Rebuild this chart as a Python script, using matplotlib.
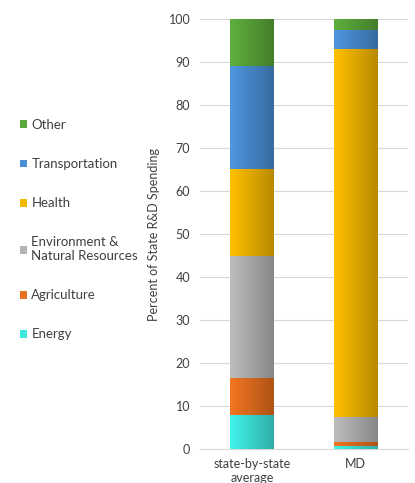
import matplotlib
matplotlib.use("Agg")
from matplotlib import pyplot as plt
from matplotlib.patches import Patch
from matplotlib.colors import to_rgb
import numpy as np

plt.rcParams['font.family'] = ['Lato', 'DejaVu Sans']

groups = ["state-by-state\naverage", "MD"]
categories = ["Energy", "Agriculture", "Environment &\nNatural Resources",
              "Health", "Transportation", "Other"]
energy = [8.0, 0.7]
agriculture = [8.5, 1.0]
environment = [28.5, 5.8]
health = [20.0, 85.5]
transportation = [24.0, 4.5]
other = [11.0, 2.5]
colors = ["#3ee8df", "#e8701f", "#b4b4b4", "#f5b800", "#4a8fd6", "#5ba83a"]

series = [energy, agriculture, environment, health, transportation, other]

fig = plt.figure(figsize=(4.15, 4.83), dpi=100)
ax = fig.add_axes([0.482, 0.07, 0.50, 0.891])

x = np.arange(len(groups))
bottom = np.zeros(len(groups))
for vals, col in zip(series, colors):
    bars = ax.bar(x, vals, bottom=bottom, width=0.42, color=col, zorder=2)
    # horizontal shading, light on the left, darker on the right
    c = np.array(to_rgb(col))
    grad = np.linspace(0, 1, 64)
    img = np.array([c * (1.05 - 0.3 * g) for g in grad]).clip(0, 1)[None, :, :]
    for b in bars:
        x0, y0 = b.get_x(), b.get_y()
        im = ax.imshow(img, extent=[x0, x0 + b.get_width(), y0, y0 + b.get_height()],
                       aspect="auto", zorder=3)
        im.set_clip_path(b)
    bottom += np.array(vals)

ax.set_xlim(-0.5, 1.5)
ax.set_ylim(0, 100)
ax.set_yticks(range(0, 101, 10))
ax.set_xticks(x)
ax.set_xticklabels(groups, fontsize=9, color="#404040")
ax.tick_params(axis="y", labelsize=9, colors="#404040", length=0, pad=7)
ax.tick_params(axis="x", length=0, pad=6)
ax.grid(axis="y", color="#d9d9d9", linewidth=0.8, zorder=0)
for s in ["top", "right", "left"]:
    ax.spines[s].set_visible(False)
ax.spines["bottom"].set_color("#d9d9d9")
ax.set_ylabel("Percent of State R&D Spending", fontsize=9, color="#404040", labelpad=6)

handles = [Patch(facecolor=c) for c in colors][::-1]
fig.legend(handles, categories[::-1], loc="upper left", bbox_to_anchor=(0.02, 0.778),
           frameon=False, fontsize=9.5, handlelength=0.55, handleheight=0.55,
           handletextpad=0.3, labelspacing=2.05, labelcolor="#404040")

fig.savefig("out.png", dpi=100)
